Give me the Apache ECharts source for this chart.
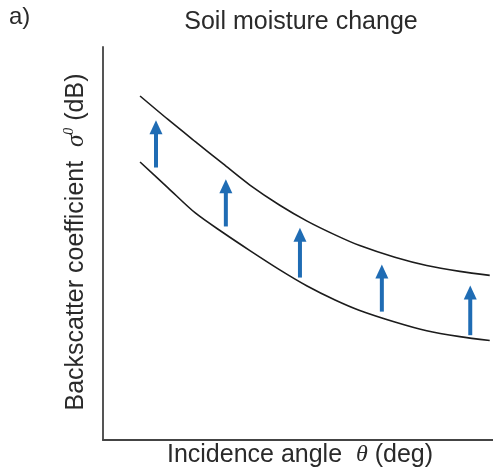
<!DOCTYPE html>
<html>
<head>
<meta charset="utf-8">
<script src="https://cdn.jsdelivr.net/npm/echarts@6/dist/echarts.min.js"></script>
<style>
  html, body { margin: 0; padding: 0; background: #fff; }
  #chart { width: 493px; height: 474px; }
</style>
</head>
<body>
<div id="chart"></div>
<script>
// Incidence angle samples (deg) along the two backscatter curves
const angles = [5.7, 10.0, 14.2, 18.5, 22.6, 27.2, 31.4, 35.7, 39.5, 44.9, 49.8, 54.9, 59.5];
// Backscatter (dB) for the drier and wetter soil states
const drySoil = [-8.78, -10.75, -12.67, -14.18, -15.54, -17.01, -18.24, -19.31, -20.11, -20.99, -21.66, -22.11, -22.41];
const wetSoil = [-3.74, -5.53, -7.22, -8.93, -10.54, -12.08, -13.29, -14.34, -15.16, -16.05, -16.68, -17.13, -17.43];

// Arrows showing the increase of backscatter with soil moisture
const arrowAngles = [8.15, 18.9, 30.3, 42.9, 56.5];
const arrowFrom = [-9.2, -13.7, -17.6, -20.2, -22.0];
const arrowTo = [-5.6, -10.1, -13.8, -16.6, -18.2];

const TEXT = '#2a2a2a';
const SANS = '"Liberation Sans", Arial, sans-serif';
const SERIF = '"Liberation Serif", "DejaVu Serif", serif';

const chart = echarts.init(document.getElementById('chart'));

const pair = (xs, ys) => xs.map((x, i) => [x, ys[i]]);

chart.setOption({
  animation: false,
  backgroundColor: '#ffffff',
  grid: { left: 103, right: 0, top: 47, bottom: 34 },
  xAxis: {
    type: 'value', min: 0, max: 60,
    axisLine: { show: true, onZero: false, lineStyle: { color: '#444', width: 2 } },
    axisTick: { show: false }, axisLabel: { show: false }, splitLine: { show: false }
  },
  yAxis: {
    type: 'value', min: -30, max: 0,
    axisLine: { show: true, onZero: false, lineStyle: { color: '#555', width: 2 } },
    axisTick: { show: false }, axisLabel: { show: false }, splitLine: { show: false }
  },
  series: [
    {
      type: 'line', data: pair(angles, wetSoil), smooth: 0.3, showSymbol: false,
      lineStyle: { color: '#1c1c1c', width: 1.6 }
    },
    {
      type: 'line', data: pair(angles, drySoil), smooth: 0.3, showSymbol: false,
      lineStyle: { color: '#1c1c1c', width: 1.6 }
    },
    {
      type: 'custom',
      data: arrowAngles.map((x, i) => [x, arrowFrom[i], arrowTo[i]]),
      encode: { x: 0, y: [1, 2] },
      renderItem: function (params, api) {
        const tail = api.coord([api.value(0), api.value(1)]);
        const tip = api.coord([api.value(0), api.value(2)]);
        const headLen = 14, headHalf = 6.5, shaft = 4;
        const color = '#1f6cb4';
        return {
          type: 'group',
          children: [
            {
              type: 'rect',
              shape: { x: tail[0] - shaft / 2, y: tip[1] + headLen - 1, width: shaft, height: tail[1] - tip[1] - headLen + 1 },
              style: { fill: color }
            },
            {
              type: 'polygon',
              shape: { points: [[tip[0], tip[1]], [tip[0] - headHalf, tip[1] + headLen], [tip[0] + headHalf, tip[1] + headLen]] },
              style: { fill: color }
            }
          ]
        };
      }
    }
  ],
  graphic: [
    {
      type: 'text', left: 9, top: 5,
      style: { text: 'a)', font: '24px ' + SANS, fill: TEXT }
    },
    {
      type: 'text', x: 301, y: 22,
      style: { text: 'Soil moisture change', font: '25px ' + SANS, fill: TEXT, align: 'center', verticalAlign: 'middle' }
    },
    {
      type: 'text', x: 300, y: 455,
      style: {
        text: 'Incidence angle  {t|θ} (deg)',
        font: '25px ' + SANS, fill: TEXT, align: 'center', verticalAlign: 'middle',
        rich: { t: { font: 'italic 24px ' + SERIF, fill: TEXT } }
      }
    },
    {
      type: 'text', x: 76, y: 242, rotation: Math.PI / 2,
      style: {
        text: 'Backscatter coefficient  {s|σ}{p|0} (dB)',
        font: '25px ' + SANS, fill: TEXT, align: 'center', verticalAlign: 'middle',
        rich: {
          s: { font: 'italic 25px ' + SERIF, fill: TEXT },
          p: { font: 'italic 14px ' + SERIF, fill: TEXT, verticalAlign: 'top', padding: [0, 0, 14, 0] }
        }
      }
    }
  ]
});
</script>
</body>
</html>
